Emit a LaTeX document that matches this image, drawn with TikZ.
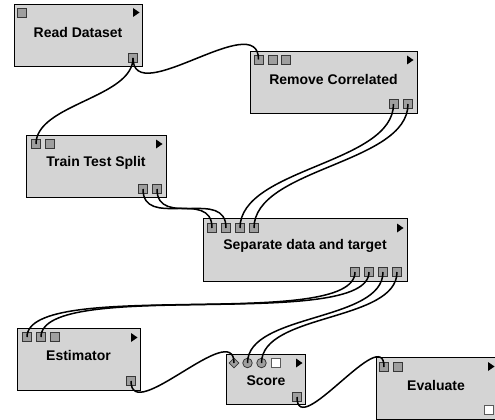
\documentclass[tikz,border=0pt]{standalone}
\usepackage{fontspec}
\setmainfont{Liberation Sans}
\usetikzlibrary{shapes.geometric}
\definecolor{boxfill}{RGB}{212,212,212}
\definecolor{portfill}{RGB}{158,158,158}
\definecolor{portline}{RGB}{55,55,55}
\definecolor{freeline}{RGB}{90,90,90}
\tikzset{
  widget/.style={draw=black, line width=1.3pt, fill=boxfill, rectangle, anchor=north west, inner sep=0pt},
  title/.style={font=\bfseries\fontsize{14}{16}\selectfont, inner sep=0pt},
  port/.style={draw=portline, line width=0.8pt, fill=portfill, rectangle, minimum size=9pt, inner sep=0pt},
  freeport/.style={port, fill=white, draw=freeline},
  rport/.style={draw=portline, line width=0.8pt, fill=portfill, circle, minimum size=9.5pt, inner sep=0pt},
  dport/.style={draw=portline, line width=0.8pt, fill=portfill, diamond, minimum size=10pt, inner sep=0pt},
  runmark/.style={fill=black},
  wire/.style={line width=1.5pt, black},
}
\begin{document}
\begin{tikzpicture}[x=1pt, y=-1pt]
\useasboundingbox (0,0) rectangle (495,420);
\fill[white] (0,0) rectangle (495,420);
\clip (0,0) rectangle (495,420);

% widgets
\node[widget, minimum width=128pt, minimum height=62pt] (rd) at (14,4) {};
\node[widget, minimum width=167pt, minimum height=62pt] (rc) at (250,51) {};
\node[widget, minimum width=140pt, minimum height=62pt] (tt) at (26,135) {};
\node[widget, minimum width=204pt, minimum height=63pt] (sd) at (203,218) {};
\node[widget, minimum width=123pt, minimum height=62pt] (est) at (17,328) {};
\node[widget, minimum width=79pt, minimum height=50pt] (sc) at (226,354) {};
\node[widget, minimum width=122pt, minimum height=62pt] (ev) at (376,357) {};

% titles
\node[title] (rdt) at (78,32) {Read Dataset};
\node[title] (rct) at (333.5,79) {Remove Correlated};
\node[title] (ttt) at (96,163) {Train Test Split};
\node[title] (sdt) at (305,246) {Separate data and target};
\node[title] (estt) at (78.5,355) {Estimator};
\node[title] (sct) at (266,381) {Score};
\node[title] (evt) at (436,385) {Evaluate};

% run marks
\fill[runmark] (133,8) -- ++(0,9) -- ++(6.5,-4.5) -- cycle;
\fill[runmark] (407,55.5) -- ++(0,9) -- ++(6.5,-4.5) -- cycle;
\fill[runmark] (156,139.5) -- ++(0,9) -- ++(6.5,-4.5) -- cycle;
\fill[runmark] (397,223.5) -- ++(0,9) -- ++(6.5,-4.5) -- cycle;
\fill[runmark] (131,333) -- ++(0,9) -- ++(6.5,-4.5) -- cycle;
\fill[runmark] (296,358.5) -- ++(0,9) -- ++(6.5,-4.5) -- cycle;
\fill[runmark] (488,362) -- ++(0,9) -- ++(6.5,-4.5) -- cycle;

% ports
\node[port] (rdi1) at (21.5,12.5) {};
\node[port] (rdo1) at (133,58) {};

\node[port] (rci1) at (258.5,59.5) {};
\node[port] (rci2) at (272.5,59.5) {};
\node[port] (rci3) at (286,59.5) {};
\node[port] (rco1) at (393.5,104) {};
\node[port] (rco2) at (408,104) {};

\node[port] (tti1) at (36,144) {};
\node[port] (tti2) at (49.5,144) {};
\node[port] (tto1) at (143,189) {};
\node[port] (tto2) at (157,189) {};

\node[port] (sdi1) at (212,228) {};
\node[port] (sdi2) at (226,228) {};
\node[port] (sdi3) at (240,228) {};
\node[port] (sdi4) at (254,228) {};
\node[port] (sdo1) at (355,272) {};
\node[port] (sdo2) at (369,272) {};
\node[port] (sdo3) at (383,272) {};
\node[port] (sdo4) at (397,272) {};

\node[port] (esti1) at (27,337) {};
\node[port] (esti2) at (41,337) {};
\node[port] (esti3) at (55,337) {};
\node[port] (esto1) at (131,381) {};

\node[dport] (sci1) at (234,363) {};
\node[rport] (sci2) at (247.5,363) {};
\node[rport] (sci3) at (261.5,363) {};
\node[freeport] (sci4) at (275.5,363) {};
\node[port] (sco1) at (297,397) {};

\node[port] (evi1) at (384,367) {};
\node[port] (evi2) at (398,367) {};
\node[freeport] (evo1) at (488.5,410) {};

% wires
\draw[wire] (rdo1.center) .. controls +(0,52) and +(0,-52) .. (rci1.center);
\draw[wire] (rdo1.center) .. controls +(0,40) and +(0,-40) .. (tti1.center);
\draw[wire] (rco1.center) .. controls +(0,60) and +(0,-60) .. (sdi3.center);
\draw[wire] (rco2.center) .. controls +(0,60) and +(0,-60) .. (sdi4.center);
\draw[wire] (tto1.center) .. controls +(0,40) and +(0,-40) .. (sdi1.center);
\draw[wire] (tto2.center) .. controls +(0,40) and +(0,-40) .. (sdi2.center);
\draw[wire] (sdo1.center) .. controls +(0,60) and +(0,-60) .. (esti1.center);
\draw[wire] (sdo2.center) .. controls +(0,60) and +(0,-60) .. (esti2.center);
\draw[wire] (sdo3.center) .. controls +(0,50) and +(0,-50) .. (sci2.center);
\draw[wire] (sdo4.center) .. controls +(0,50) and +(0,-50) .. (sci3.center);
\draw[wire] (esto1.center) .. controls +(0,45) and +(0,-45) .. (sci1.center);
\draw[wire] (sco1.center) .. controls +(0,45) and +(0,-45) .. (evi1.center);
\end{tikzpicture}
\end{document}
